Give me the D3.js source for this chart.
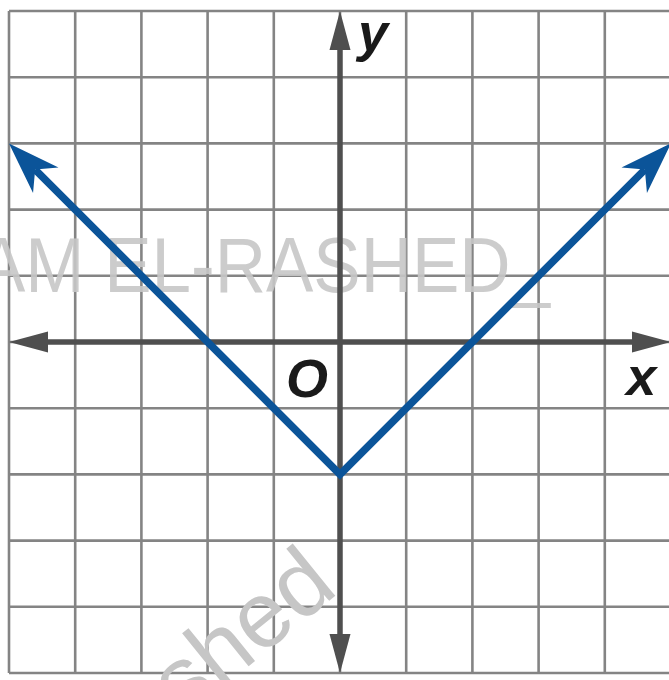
<!DOCTYPE html>
<html>
<head>
<meta charset="utf-8">
<script src="https://cdn.jsdelivr.net/npm/d3@7"></script>
<style>
  html, body { margin: 0; padding: 0; background: #fff; }
  svg { display: block; }
</style>
</head>
<body>
<div id="chart"></div>
<script>
// graph of y = |x| - 2 on a 10 x 10 grid
const gridTicks = [-5, -4, -3, -2, -1, 0, 1, 2, 3, 4, 5];
const xDomain = [-5, 5];
const yDomain = [-5, 5];
const vPoints = [[-5, 3], [0, -2], [5, 3]];
const axisLabels = [
  {text: "y", x: 0.5, y: 4.4},
  {text: "O", x: -0.5, y: -0.83},
  {text: "x", x: 4.55, y: -0.8}
];

function PlotGraph(parent_element) {
  const width = 669;
  const height = 680;

  const svg = d3.select("#" + parent_element)
    .append("svg")
      .attr("width", width)
      .attr("height", height);

  const x = d3.scaleLinear().domain(xDomain).range([9, 671]);
  const y = d3.scaleLinear().domain(yDomain).range([673, 11]);

  // grid
  const grid = svg.append("g").attr("class", "grid");
  grid.selectAll("line.v")
    .data(gridTicks)
    .enter()
    .append("line")
      .attr("class", "v")
      .attr("x1", d => x(d)).attr("x2", d => x(d))
      .attr("y1", y(yDomain[1])).attr("y2", y(yDomain[0]))
      .attr("stroke", "#848484")
      .attr("stroke-width", 2.6);
  grid.selectAll("line.h")
    .data(gridTicks)
    .enter()
    .append("line")
      .attr("class", "h")
      .attr("y1", d => y(d)).attr("y2", d => y(d))
      .attr("x1", x(xDomain[0])).attr("x2", x(xDomain[1]))
      .attr("stroke", "#848484")
      .attr("stroke-width", 2.6);

  // watermark text (behind the axes)
  svg.append("text")
    .attr("x", -22)
    .attr("y", 292)
    .attr("textLength", 572)
    .attr("lengthAdjust", "spacingAndGlyphs")
    .style("font-family", "'Liberation Sans', Arial, sans-serif")
    .style("font-size", "77px")
    .style("fill", "#c6c6c6")
    .style("fill-opacity", 0.9)
    .text("AM EL-RASHED_");

  svg.append("text")
    .attr("transform", "translate(340,592) rotate(-39)")
    .attr("text-anchor", "end")
    .style("font-family", "'Liberation Sans', Arial, sans-serif")
    .style("font-size", "93px")
    .style("fill", "#c6c6c6")
    .text("Rashed");

  // arrowhead helper: simple triangle or notched head
  function head(tip, from, len, half, notch) {
    const dx = tip[0] - from[0], dy = tip[1] - from[1];
    const l = Math.hypot(dx, dy);
    const ux = dx / l, uy = dy / l;
    const px = -uy, py = ux;
    const bx = tip[0] - ux * len, by = tip[1] - uy * len;
    const pts = [
      tip,
      [bx + px * half, by + py * half],
      [tip[0] - ux * notch, tip[1] - uy * notch],
      [bx - px * half, by - py * half]
    ];
    return {path: "M" + pts.map(p => p.join(",")).join("L") + "Z",
            back: [tip[0] - ux * notch, tip[1] - uy * notch]};
  }

  // axes
  const axisColor = "#4f4f4f";
  const axes = [
    [[x(xDomain[0]), y(0)], [x(xDomain[1]), y(0)]],
    [[x(0), y(yDomain[0])], [x(0), y(yDomain[1])]]
  ];
  axes.forEach(a => {
    const h1 = head(a[0], a[1], 39, 10.5, 39);
    const h2 = head(a[1], a[0], 39, 10.5, 39);
    svg.append("line")
      .attr("x1", h1.back[0]).attr("y1", h1.back[1])
      .attr("x2", h2.back[0]).attr("y2", h2.back[1])
      .attr("stroke", axisColor)
      .attr("stroke-width", 5.5);
    svg.append("path").attr("d", h1.path).attr("fill", axisColor);
    svg.append("path").attr("d", h2.path).attr("fill", axisColor);
  });

  // the V graph
  const blue = "#0b5499";
  const pts = vPoints.map(p => [x(p[0]), y(p[1])]);
  const hl = head(pts[0], pts[1], 52, 18, 37);
  const hr = head(pts[2], pts[1], 52, 18, 37);
  const line = d3.line();
  svg.append("path")
    .attr("d", line([hl.back, pts[1], hr.back]))
    .attr("fill", "none")
    .attr("stroke", blue)
    .attr("stroke-width", 7.5)
    .attr("stroke-linejoin", "miter");
  svg.append("path").attr("d", hl.path).attr("fill", blue);
  svg.append("path").attr("d", hr.path).attr("fill", blue);

  // axis labels
  svg.selectAll("text.lbl")
    .data(axisLabels)
    .enter()
    .append("text")
      .attr("class", "lbl")
      .attr("x", d => x(d.x))
      .attr("y", d => y(d.y))
      .attr("text-anchor", "middle")
      .style("font-family", "'Liberation Sans', Arial, sans-serif")
      .style("font-weight", "bold")
      .style("font-style", "italic")
      .style("font-size", "54px")
      .style("fill", "#1a1a1a")
      .text(d => d.text);
}

document.addEventListener('DOMContentLoaded', (event) => {
  PlotGraph("chart");
});
</script>
</body>
</html>
